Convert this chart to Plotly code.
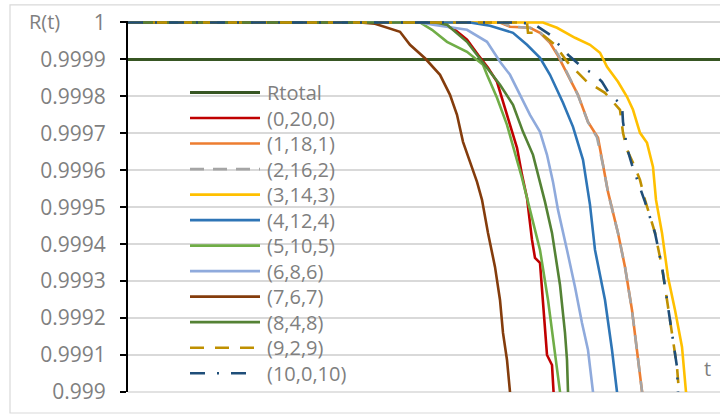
import plotly.graph_objects as go

# ---- data -------------------------------------------------------------
T_MAX = 5920  # end of the time axis (no tick labels are shown)

rtotal_t = [0, T_MAX]
rtotal_r = [0.9999, 0.9999]

series_names = ["(0,20,0)", "(1,18,1)", "(2,16,2)", "(3,14,3)", "(4,12,4)",
                "(5,10,5)", "(6,8,6)", "(7,6,7)", "(8,4,8)", "(9,2,9)", "(10,0,10)"]

t_0_20_0 = [0, 3120, 3270, 3390, 3500, 3600, 3690, 3750, 3820, 3890, 3940, 3990,
            4040, 4070, 4120, 4150, 4190, 4240, 4250, 4260]
r_0_20_0 = [1, 1, 0.9999802, 0.9999532, 0.9999125, 0.9998773, 0.9998394, 0.9997853,
            0.9997230, 0.9996607, 0.9995876, 0.9995253, 0.9994116, 0.9993628, 0.9993493,
            0.9992491, 0.9991002, 0.9990731, 0.9990000, 0.9989800]

t_1_18_1 = [0, 3720, 3820, 4020, 4120, 4220, 4300, 4400, 4500, 4600, 4700, 4750, 4800,
            4900, 4970, 5040, 5090, 5140, 5150]
r_1_18_1 = [1, 1, 0.9999884, 0.9999856, 0.9999721, 0.9999450, 0.9999098, 0.9998584,
            0.9998042, 0.9997311, 0.9996878, 0.9996147, 0.9995416, 0.9994305, 0.9993385,
            0.9992220, 0.9991137, 0.9990000, 0.9989800]

t_2_16_2 = [0, 3740, 3830, 4030, 4130, 4230, 4310, 4400, 4500, 4600, 4690, 4750, 4800,
            4900, 4970, 5040, 5090, 5140, 5150]
r_2_16_2 = [1, 1, 0.9999890, 0.9999850, 0.9999715, 0.9999440, 0.9999090, 0.9998580,
            0.9998030, 0.9997300, 0.9996890, 0.9996140, 0.9995400, 0.9994300, 0.9993380,
            0.9992210, 0.9991130, 0.9990000, 0.9989800]

t_3_14_3 = [0, 4150, 4290, 4470, 4620, 4720, 4790, 4900, 4990, 5050, 5120, 5190, 5250,
            5280, 5340, 5400, 5470, 5540, 5580, 5590]
r_3_14_3 = [1, 1, 0.9999856, 0.9999586, 0.9999396, 0.9999180, 0.9998800, 0.9998394,
            0.9997988, 0.9997636, 0.9997013, 0.9996742, 0.9996093, 0.9995199, 0.9994305,
            0.9993114, 0.9992220, 0.9991218, 0.9990000, 0.9989800]

t_4_12_4 = [0, 3420, 3620, 3850, 3990, 4120, 4220, 4350, 4450, 4550, 4620, 4670, 4770,
            4840, 4890, 4900]
r_4_12_4 = [1, 1, 0.9999911, 0.9999721, 0.9999396, 0.9999044, 0.9998584, 0.9997826,
            0.9997176, 0.9996282, 0.9995064, 0.9993845, 0.9992491, 0.9991137, 0.9990000,
            0.9989800]

t_5_10_5 = [0, 2920, 3040, 3190, 3390, 3550, 3590, 3690, 3790, 3870, 3940, 4000, 4120,
            4200, 4250, 4290, 4320, 4330]
r_5_10_5 = [1, 1, 0.9999802, 0.9999477, 0.9999207, 0.9998855, 0.9998584, 0.9997961,
            0.9997230, 0.9996499, 0.9995795, 0.9995145, 0.9993845, 0.9992491, 0.9991408,
            0.9990596, 0.9990000, 0.9989800]

t_6_8_6 = [0, 2920, 3050, 3390, 3590, 3720, 3820, 3920, 4020, 4120, 4190, 4250, 4300,
           4390, 4470, 4540, 4600, 4650, 4660]
r_6_8_6 = [1, 1, 0.9999938, 0.9999802, 0.9999477, 0.9998936, 0.9998584, 0.9998042,
           0.9997501, 0.9997040, 0.9996418, 0.9995686, 0.9994928, 0.9993845, 0.9992843,
           0.9991868, 0.9991137, 0.9990000, 0.9989800]

t_7_6_7 = [0, 2320, 2470, 2600, 2720, 2820, 2970, 3120, 3220, 3290, 3350, 3420, 3490,
           3540, 3600, 3670, 3720, 3750, 3790, 3820, 3840]
r_7_6_7 = [1, 1, 0.9999965, 0.9999856, 0.9999748, 0.9999396, 0.9999031, 0.9998584,
           0.9998042, 0.9997501, 0.9996770, 0.9996228, 0.9995686, 0.9995199, 0.9994305,
           0.9993385, 0.9992491, 0.9991598, 0.9990866, 0.9990000, 0.9989800]

t_8_4_8 = [0, 3070, 3190, 3390, 3550, 3720, 3850, 3950, 4050, 4120, 4170, 4240, 4290,
           4320, 4370, 4390, 4400, 4410]
r_8_4_8 = [1, 1, 0.9999938, 0.9999477, 0.9998909, 0.9998313, 0.9997771, 0.9997040,
           0.9996418, 0.9995686, 0.9995145, 0.9994305, 0.9993385, 0.9992897, 0.9991598,
           0.9990866, 0.9990000, 0.9989800]

t_9_2_9 = [0, 3990, 4000, 4120, 4270, 4400, 4590, 4770, 4920, 4950, 4990, 5050, 5120,
           5170, 5270, 5340, 5390, 5440, 5490, 5510, 5520]
r_9_2_9 = [1, 1, 0.9999721, 0.9999721, 0.9999396, 0.9998909, 0.9998394, 0.9998096,
           0.9997636, 0.9997013, 0.9996553, 0.9996201, 0.9995741, 0.9995199, 0.9994305,
           0.9993385, 0.9992491, 0.9991598, 0.9990677, 0.9990000, 0.9989800]

t_10_0_10 = [0, 3920, 4070, 4220, 4400, 4550, 4670, 4740, 4820, 4940, 4950, 4990, 5040,
             5100, 5170, 5270, 5340, 5390, 5440, 5490, 5500, 5510]
r_10_0_10 = [1, 1, 0.9999938, 0.9999667, 0.9999125, 0.9998773, 0.9998584, 0.9998394,
             0.9998042, 0.9997771, 0.9997311, 0.9996607, 0.9996147, 0.9995686, 0.9995145,
             0.9994305, 0.9993385, 0.9992491, 0.9991598, 0.9990677, 0.9990000, 0.9989800]

series_t = [t_0_20_0, t_1_18_1, t_2_16_2, t_3_14_3, t_4_12_4, t_5_10_5,
            t_6_8_6, t_7_6_7, t_8_4_8, t_9_2_9, t_10_0_10]
series_r = [r_0_20_0, r_1_18_1, r_2_16_2, r_3_14_3, r_4_12_4, r_5_10_5,
            r_6_8_6, r_7_6_7, r_8_4_8, r_9_2_9, r_10_0_10]

y_tick_vals = [1, 0.9999, 0.9998, 0.9997, 0.9996, 0.9995, 0.9994, 0.9993, 0.9992, 0.9991, 0.999]
y_tick_text = ["1", "0.9999", "0.9998", "0.9997", "0.9996", "0.9995", "0.9994",
               "0.9993", "0.9992", "0.9991", "0.999"]

# ---- styles -------------------------------------------------------------
RTOTAL_COLOR = "#375623"
series_colors = ["#C00000", "#ED7D31", "#A5A5A5", "#FFC000", "#2E75B6", "#70AD47",
                 "#8FAADC", "#843C0C", "#548235", "#BF9000", "#1F4E79"]
series_dash = ["solid", "solid", "14px,9px", "solid", "solid", "solid",
               "solid", "solid", "solid", "14px,11px", "15px,12px,2px,12px"]

FONT = "Open Sans"
TEXT_GRAY = "#7F7F7F"
GRID = "#D9D9D9"
W, H = 720, 415
PLOT_L, PLOT_R = 128, 720
PLOT_T, PLOT_B = 21.2, 392


def px(x):
    return (x - PLOT_L) / (PLOT_R - PLOT_L)


def py(y):
    return (PLOT_B - y) / (PLOT_B - PLOT_T)


fig = go.Figure()

fig.add_trace(go.Scatter(x=rtotal_t, y=rtotal_r, mode="lines", name="Rtotal",
                         line=dict(color=RTOTAL_COLOR, width=3), showlegend=False))
for name, t, r, c, d in zip(series_names, series_t, series_r, series_colors, series_dash):
    fig.add_trace(go.Scatter(x=t, y=r, mode="lines", name=name,
                             line=dict(color=c, width=2.6, dash=d), showlegend=False))

shapes = []
annotations = []

# chart frame
shapes.append(dict(type="rect", xref="paper", yref="paper",
                   x0=px(10), x1=px(730), y0=py(413), y1=py(5),
                   line=dict(color=GRID, width=1.2), fillcolor="rgba(0,0,0,0)",
                   layer="below"))
# bottom gridline on the lower edge of the value range (paper ref so it is not clipped)
shapes.append(dict(type="line", xref="paper", yref="paper", x0=0, x1=1,
                   y0=0, y1=0, line=dict(color=GRID, width=1.6), layer="below"))

# legend inside the plot area
legend_names = ["Rtotal"] + series_names
legend_colors = [RTOTAL_COLOR] + series_colors
legend_dash = ["solid"] + series_dash
legend_widths = [3] + [2.6] * len(series_names)
row0, row_step = 92.7, 25.5
for i, (nm, c, d, w) in enumerate(zip(legend_names, legend_colors, legend_dash, legend_widths)):
    yy = row0 + i * row_step
    x_end = 247 if nm == "(10,0,10)" else 260
    shapes.append(dict(type="line", xref="paper", yref="paper",
                       x0=px(190), x1=px(x_end), y0=py(yy), y1=py(yy),
                       line=dict(color=c, width=w, dash=d)))
    annotations.append(dict(xref="paper", yref="paper", x=px(265), y=py(yy),
                            text=nm, showarrow=False, xanchor="left", yanchor="middle",
                            font=dict(family=FONT, size=20, color=TEXT_GRAY)))

annotations.append(dict(xref="paper", yref="paper", x=px(44), y=py(22),
                        text="R(t)", showarrow=False, xanchor="center", yanchor="middle",
                        font=dict(family=FONT, size=20, color=TEXT_GRAY)))
annotations.append(dict(xref="paper", yref="paper", x=px(707), y=py(369),
                        text="t", showarrow=False, xanchor="center", yanchor="middle",
                        font=dict(family=FONT, size=20, color=TEXT_GRAY)))

fig.update_layout(
    width=W, height=H,
    margin=dict(l=PLOT_L, r=W - PLOT_R, t=PLOT_T, b=H - PLOT_B, pad=0),
    paper_bgcolor="white", plot_bgcolor="white",
    shapes=shapes, annotations=annotations,
    showlegend=False,
)
fig.update_xaxes(range=[0, T_MAX], showgrid=False, showticklabels=False,
                 ticks="", showline=False, zeroline=False)
fig.update_yaxes(range=[0.999, 1.000004], tickmode="array", tickvals=y_tick_vals,
                 ticktext=y_tick_text, showgrid=True, gridcolor=GRID, gridwidth=1.5,
                 showline=True, linecolor="black", linewidth=2,
                 ticks="outside", ticklen=6, tickwidth=2, tickcolor="black",
                 ticklabelstandoff=10, zeroline=False,
                 tickfont=dict(family=FONT, size=21, color=TEXT_GRAY))

fig.write_html("out.html")
